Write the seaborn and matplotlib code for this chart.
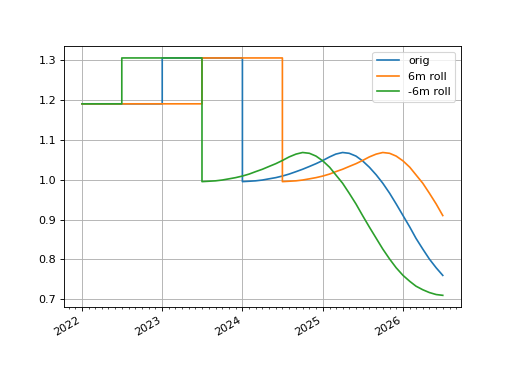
import numpy as np
import pandas as pd
import matplotlib
matplotlib.use("Agg")
import matplotlib.pyplot as plt
import matplotlib.dates as mdates
import seaborn as sns

# Step part of the original series
step_edges = ["2022-01-01", "2023-01-01", "2024-01-01"]
step_levels = [1.19, 1.305]

# Smooth part of the original series, monthly from 2024-01 (extends to 2027-01)
curve_start = "2024-01-01"
curve_values = [0.995, 0.996, 0.997, 0.999, 1.002, 1.005, 1.009, 1.014, 1.020,
                1.026, 1.033, 1.040, 1.048, 1.057, 1.064, 1.068, 1.066, 1.059,
                1.047, 1.031, 1.012, 0.991, 0.966, 0.939, 0.910, 0.881, 0.853,
                0.826, 0.801, 0.779, 0.760, 0.745, 0.733, 0.724, 0.717, 0.712,
                0.710]

series_names = ["orig", "6m roll", "-6m roll"]
shifts_months = [0, 6, -6]
view_start = pd.Timestamp("2022-01-01")
view_end = pd.Timestamp("2026-07-01")

# build the original point list
edges = pd.to_datetime(step_edges)
pts_x, pts_y = [], []
for i, lvl in enumerate(step_levels):
    pts_x += [edges[i], edges[i + 1]]
    pts_y += [lvl, lvl]
curve_dates = pd.date_range(curve_start, periods=len(curve_values), freq="MS")
pts_x += list(curve_dates)
pts_y += list(curve_values)


def rolled(months):
    xs = [x + pd.DateOffset(months=months) for x in pts_x]
    out_x, out_y = [], []
    for x, y in zip(xs, pts_y):
        if view_start <= x <= view_end:
            out_x.append(x)
            out_y.append(y)
    if out_x[0] > view_start:
        out_x.insert(0, view_start)
        out_y.insert(0, step_levels[0])
    return pd.DataFrame({"date": out_x, "value": out_y})


fig, ax = plt.subplots(figsize=(6.4, 4.8), dpi=80)
for name, m in zip(series_names, shifts_months):
    df = rolled(m)
    sns.lineplot(data=df, x="date", y="value", sort=False, estimator=None,
                 label=name, ax=ax)

ax.xaxis.set_major_locator(mdates.YearLocator())
ax.xaxis.set_major_formatter(mdates.DateFormatter("%Y"))
ax.xaxis.set_minor_locator(mdates.MonthLocator())
ax.set_xlabel("")
ax.set_ylabel("")
ax.grid(True)
ax.legend(loc="upper right")
fig.autofmt_xdate()
fig.savefig("out.png", dpi=80)
